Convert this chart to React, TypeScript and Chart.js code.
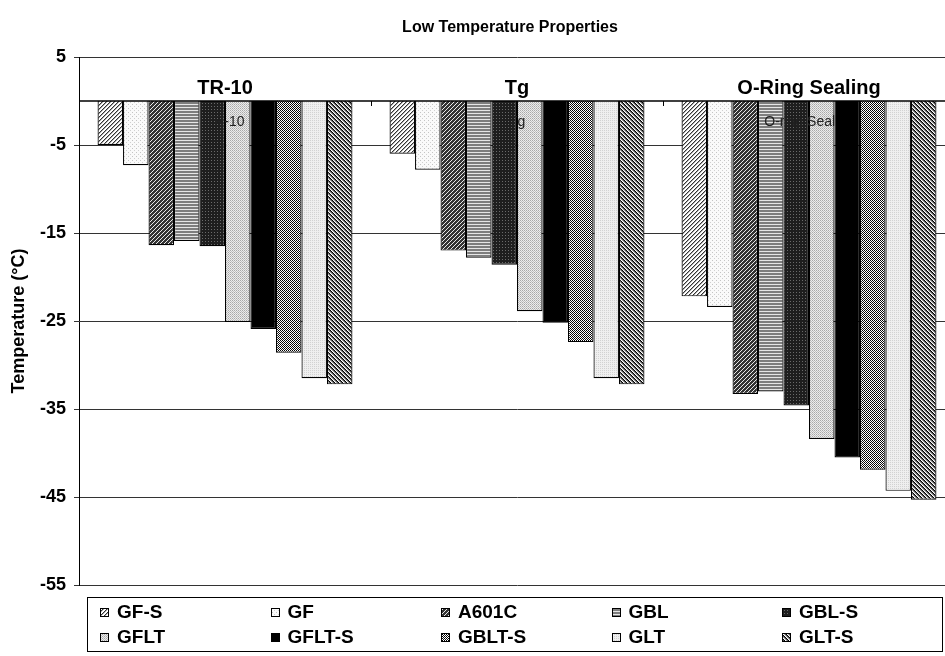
import React, { useEffect, useRef } from "react";
import { Chart, registerables } from "chart.js";

Chart.register(...registerables);

const chartTitle = "Low Temperature Properties";
const categories = ["TR-10", "Tg", "O-Ring Sealing"];
const overlayLabels = ["TR-10", "Tg", "O-ring Sealing"];
const seriesNames = ["GF-S", "GF", "A601C", "GBL", "GBL-S", "GFLT", "GFLT-S", "GBLT-S", "GLT", "GLT-S"];
const gfS = [-5.0, -6.0, -22.2];
const gf = [-7.3, -7.8, -23.4];
const a601c = [-16.4, -17.0, -33.3];
const gbl = [-15.9, -17.8, -33.0];
const gblS = [-16.5, -18.6, -34.6];
const gflt = [-25.1, -23.9, -38.4];
const gfltS = [-25.9, -25.2, -40.5];
const gbltS = [-28.6, -27.4, -41.9];
const glt = [-31.5, -31.5, -44.3];
const gltS = [-32.2, -32.2, -45.3];
const seriesValues = [gfS, gf, a601c, gbl, gblS, gflt, gfltS, gbltS, glt, gltS];
const yTicks = [5, -5, -15, -25, -35, -45, -55];

const FONT = "'Liberation Sans', Arial, Helvetica, sans-serif";

function tile(w: number, h: number, draw: (c: CanvasRenderingContext2D) => void): CanvasPattern {
  const cv = document.createElement("canvas");
  cv.width = w;
  cv.height = h;
  const c = cv.getContext("2d")!;
  draw(c);
  return c.createPattern(cv, "repeat")!;
}

function px(c: CanvasRenderingContext2D, x: number, y: number, col: string) {
  c.fillStyle = col;
  c.fillRect(x, y, 1, 1);
}

function makePatterns(): (CanvasPattern | string)[] {
  const gfSP = tile(4, 4, (c) => {
    c.fillStyle = "#fff"; c.fillRect(0, 0, 4, 4);
    for (let i = 0; i < 4; i++) { px(c, i, 3 - i, "#333"); px(c, i, (4 - i) % 4, "#aaa"); }
  });
  const gfP = tile(4, 4, (c) => {
    c.fillStyle = "#fafafa"; c.fillRect(0, 0, 4, 4);
    px(c, 0, 0, "#c4c4c4"); px(c, 2, 2, "#d0d0d0");
  });
  const a601P = tile(4, 4, (c) => {
    c.fillStyle = "#333"; c.fillRect(0, 0, 4, 4);
    for (let i = 0; i < 4; i++) { px(c, i, 3 - i, "#e8e8e8"); }
  });
  const gblP = tile(2, 3, (c) => {
    c.fillStyle = "#7e7e7e"; c.fillRect(0, 0, 2, 3);
    c.fillStyle = "#e6e6e6"; c.fillRect(0, 2, 2, 1);
  });
  const gblSP = tile(3, 3, (c) => {
    c.fillStyle = "#1e1e1e"; c.fillRect(0, 0, 3, 3);
    px(c, 1, 1, "#6a6a6a");
  });
  const gfltP = tile(2, 2, (c) => {
    c.fillStyle = "#ececec"; c.fillRect(0, 0, 2, 2);
    px(c, 0, 0, "#a8a8a8"); px(c, 1, 1, "#c0c0c0");
  });
  const gbltSP = tile(2, 2, (c) => {
    c.fillStyle = "#fff"; c.fillRect(0, 0, 2, 2);
    px(c, 0, 0, "#000"); px(c, 1, 1, "#111");
  });
  const gltP = tile(2, 2, (c) => {
    c.fillStyle = "#efefef"; c.fillRect(0, 0, 2, 2);
    px(c, 0, 0, "#d2d2d2");
  });
  const gltSP = tile(4, 4, (c) => {
    c.fillStyle = "#fff"; c.fillRect(0, 0, 4, 4);
    for (let i = 0; i < 4; i++) { px(c, i, i, "#000"); px(c, i, (i + 1) % 4, "#555"); px(c, i, (i + 2) % 4, "#aaa"); }
  });
  return [gfSP, gfP, a601P, gblP, gblSP, gfltP, "#000", gbltSP, gltP, gltSP];
}

const decorPlugin = {
  id: "decor",
  afterDatasetsDraw(chart: any) {
    const { ctx, chartArea, scales } = chart;
    const xs = scales.x;
    const ys = scales.y;
    const y0 = ys.getPixelForValue(0);
    ctx.save();
    // zero line
    ctx.strokeStyle = "#000";
    ctx.lineWidth = 1.5;
    ctx.beginPath();
    ctx.moveTo(chartArea.left, y0);
    ctx.lineTo(chartArea.right, y0);
    ctx.stroke();
    // category boundary ticks
    const n = categories.length;
    const catW = (chartArea.right - chartArea.left) / n;
    ctx.lineWidth = 1;
    for (let i = 0; i <= n; i++) {
      const x = Math.round(chartArea.left + i * catW) + 0.5;
      ctx.beginPath();
      ctx.moveTo(x, y0);
      ctx.lineTo(x, y0 + 5);
      ctx.stroke();
    }
    // category labels
    ctx.fillStyle = "#000";
    ctx.font = `bold 20px ${FONT}`;
    ctx.textAlign = "center";
    ctx.textBaseline = "alphabetic";
    categories.forEach((c, i) => {
      ctx.fillText(c, xs.getPixelForValue(i), y0 - 7);
    });
    // overlay text boxes
    ctx.font = `14px ${FONT}`;
    overlayLabels.forEach((c, i) => {
      const cx = xs.getPixelForValue(i);
      ctx.save();
      ctx.beginPath();
      ctx.rect(cx - 60, y0, 86, 40);
      ctx.clip();
      ctx.fillStyle = "#222";
      ctx.fillText(c, cx, y0 + 25);
      ctx.restore();
    });
    ctx.restore();
  },
  afterDraw(chart: any) {
    const { ctx, chartArea, data } = chart;
    // title
    ctx.save();
    ctx.fillStyle = "#000";
    ctx.font = `bold 16px ${FONT}`;
    ctx.textAlign = "center";
    ctx.textBaseline = "middle";
    ctx.fillText(chartTitle, 510, 28);
    // legend
    const left = chartArea.left + 8;
    const top = chartArea.bottom + 12;
    const w = 855;
    const h = 54;
    ctx.strokeStyle = "#000";
    ctx.lineWidth = 1;
    ctx.strokeRect(left + 0.5, top + 0.5, w, h);
    ctx.font = `bold 19px ${FONT}`;
    ctx.textBaseline = "middle";
    ctx.textAlign = "left";
    data.datasets.forEach((ds: any, i: number) => {
      const col = i % 5;
      const row = Math.floor(i / 5);
      const sx = left + 13 + col * 170.5;
      const sy = top + 15 + row * 25;
      ctx.fillStyle = ds.backgroundColor;
      ctx.fillRect(Math.round(sx), Math.round(sy - 4), 9, 9);
      ctx.strokeStyle = "#000";
      ctx.strokeRect(Math.round(sx) + 0.5, Math.round(sy - 4) + 0.5, 8, 8);
      ctx.fillStyle = "#000";
      ctx.fillText(ds.label, sx + 17, sy + 1);
    });
    ctx.restore();
  },
};

export default function App() {
  const ref = useRef<HTMLCanvasElement | null>(null);
  useEffect(() => {
    if (!ref.current) return;
    const patterns = makePatterns();
    const chart = new Chart(ref.current, {
      type: "bar",
      data: {
        labels: categories,
        datasets: seriesNames.map((name, i) => ({
          label: name,
          data: seriesValues[i],
          backgroundColor: patterns[i] as any,
          borderColor: "#000",
          borderWidth: 1.2,
          categoryPercentage: 0.873,
          barPercentage: 1,
        })),
      },
      options: {
        responsive: false,
        animation: false,
        devicePixelRatio: 1,
        layout: { padding: { left: 0, right: 65, top: 57, bottom: 71 } },
        plugins: {
          legend: { display: false },
          tooltip: { enabled: false },
          title: { display: false },
        },
        scales: {
          x: { display: false },
          y: {
            min: -55,
            max: 5,
            afterBuildTicks: (s: any) => {
              s.ticks = yTicks.map((v) => ({ value: v }));
            },
            afterFit: (s: any) => {
              s.width = 79;
            },
            ticks: {
              color: "#000",
              font: { family: FONT, size: 18, weight: "bold" },
              padding: 8,
            },
            grid: { color: "#333", lineWidth: 1, tickLength: 5 },
            border: { color: "#000", width: 1 },
            title: {
              display: true,
              text: "Temperature (°C)",
              color: "#000",
              font: { family: FONT, size: 18, weight: "bold" },
              padding: { top: 8, bottom: 0 },
            },
          },
        },
      },
      plugins: [decorPlugin],
    });
    return () => chart.destroy();
  }, []);
  return (
    <div style={{ position: "fixed", left: 0, top: 0, width: 945, height: 656, overflow: "hidden", background: "#fff" }}>
      <canvas ref={ref} width={1020} height={656} style={{ display: "block" }} />
    </div>
  );
}
